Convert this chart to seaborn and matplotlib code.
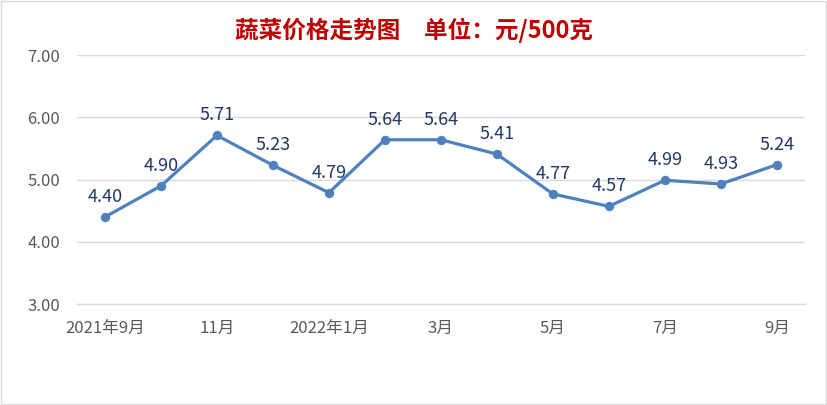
import seaborn as sns
import pandas as pd
import matplotlib.pyplot as plt
from matplotlib.patches import Rectangle

# Data
months = ['2021年9月', '10月', '11月', '12月', '2022年1月', '2月', '3月', '4月', '5月', '6月', '7月', '8月', '9月']
prices = [4.40, 4.90, 5.71, 5.23, 4.79, 5.64, 5.64, 5.41, 4.77, 4.57, 4.99, 4.93, 5.24]
title = '蔬菜价格走势图　单位：元/500克'

df = pd.DataFrame({'month': months, 'price': prices, 'pos': range(len(months))})

sns.set_style("white")
plt.rcParams['font.family'] = ['Noto Sans CJK SC', 'DejaVu Sans']

line_color = '#4F81BD'
label_color = '#1F3864'
grid_color = '#D9D9D9'
text_color = '#595959'

fig = plt.figure(figsize=(8.28, 4.05), dpi=100)
ax = fig.add_axes([0.093, 0.249, 0.879, 0.615])

sns.lineplot(data=df, x='pos', y='price', ax=ax, color=line_color, linewidth=2.3,
             marker='o', markersize=6, markeredgecolor=line_color, markerfacecolor=line_color)

for x, y in zip(df.pos, df.price):
    ax.annotate(f'{y:.2f}', (x, y), xytext=(0, 8), textcoords='offset points',
                ha='center', va='bottom', fontsize=13, color=label_color)

# Axes
ax.set_xlim(-0.5, len(months) - 0.5)
ax.set_ylim(3, 7)
ax.set_yticks([3, 4, 5, 6, 7])
ax.set_yticklabels([f'{v:.2f}' for v in [3, 4, 5, 6, 7]])
ax.set_xticks(range(0, len(months), 2))
ax.set_xticklabels(months[::2])
ax.set_xticks([i - 0.5 for i in range(len(months) + 1)], minor=True)
ax.tick_params(axis='x', which='major', length=0, labelsize=12, colors=text_color, pad=11)
ax.tick_params(axis='x', which='minor', length=6, direction='in', color=grid_color, width=1)
ax.tick_params(axis='y', length=0, labelsize=12, colors=text_color, pad=12)
ax.grid(axis='y', color=grid_color, linewidth=1)
ax.set_axisbelow(True)
ax.set_xlabel('')
ax.set_ylabel('')

sns.despine(ax=ax, left=True)
ax.spines['bottom'].set_color(grid_color)
ax.spines['bottom'].set_linewidth(1)

fig.text(0.5, 0.925, title, ha='center', va='center', fontsize=17, fontweight='bold', color='#C00000')

# Outer border
fig.patches.append(Rectangle((0.001, 0.002), 0.997, 0.995, transform=fig.transFigure,
                             fill=False, edgecolor='#D9D9D9', linewidth=1))

plt.savefig('out.png', dpi=100)
plt.close()
